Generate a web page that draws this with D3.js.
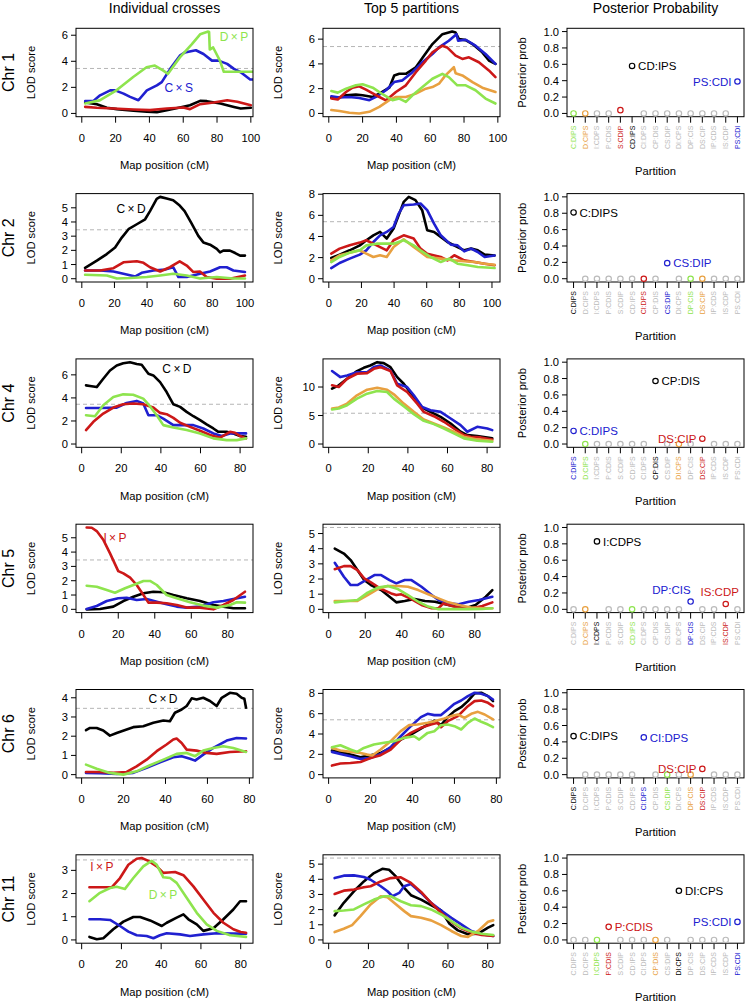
<!DOCTYPE html>
<html><head><meta charset="utf-8">
<script src="https://cdn.jsdelivr.net/npm/d3@7/dist/d3.min.js"></script>
<style>body{margin:0;background:#fff}svg text{font-family:"Liberation Sans",Arial,sans-serif}</style>
</head><body><svg id="c" width="745" height="1003"></svg>
<script>
// ---------------- DATA ----------------
const chromosomes = ["1","2","4","5","6","11"];
const columnTitles = ["Individual crosses","Top 5 partitions","Posterior Probability"];
const crosses = ["C×D","C×S","I×P","D×P"];
const partitions = ["C:DIPS","D:CIPS","I:CDPS","P:CDIS","S:CDIP","CD:IPS","CI:DPS","CP:DIS","CS:DIP","DI:CPS","DP:CIS","DS:CIP","IP:CDS","IS:CDP","PS:CDI"];
const xTicks100 = [0,20,40,60,80,100];
const xTicks80 = [0,20,40,60,80];
const probTicks = [0,0.2,0.4,0.6,0.8,1.0];
const thresholdCross = 3.45, thresholdPart = 5.4;
const xRangeLo = 0.45;
const xRangeHi = [97.4,100.9,83.2,90.2,78.6,82.9];

// Chr 1
const chr1Cross = [
 [[2,0.84],[8.9,0.71],[14.8,0.43],[20.7,0.33],[30.6,0.2],[38.5,0.13],[44.4,0.1],[50.3,0.25],[58,0.46],[64,0.63],[70,0.96],[74,0.94],[82,0.76],[90,0.5],[94,0.38],[100,0.43]],
 [[2,0.94],[6.7,0.94],[10.8,1.39],[16.8,1.77],[19.7,1.77],[24.7,1.52],[28.6,1.27],[33.5,1.01],[38.5,1.77],[44.4,2.15],[47.3,2.4],[52.3,3.42],[58,4.43],[61,4.68],[66,4.81],[67.5,4.85],[72,4.56],[77,4.05],[80.9,4.05],[86,3.8],[90,3.42],[94,3.16],[99.6,2.6],[102,2.6]],
 [[2,0.5],[8.9,0.43],[18.7,0.38],[30.6,0.3],[40.4,0.25],[50.3,0.38],[60,0.45],[64,0.33],[70,0.71],[78,0.84],[86,1.01],[92,0.89],[100,0.63]],
 [[2,0.76],[10.6,1.0],[20.5,1.77],[30.4,2.8],[38.3,3.54],[43.2,3.67],[48,3.3],[51,3.04],[58,4.3],[65,5.3],[70,6.07],[74.8,6.28],[75.3,6.25],[75.7,4.9],[77.7,5.06],[81.7,4.05],[84,3.2],[89.5,3.2],[101,3.2]]
];
const chr1Top = [
 [[1.5,1.28],[4.3,1.2],[10.2,1.47],[16,1.52],[20,1.47],[26,1.33],[29.9,1.6],[35.8,2.08],[38.7,3.07],[41.7,3.2],[45.6,3.2],[51.5,3.73],[56.4,4.67],[61.3,5.6],[67.2,6.4],[73,6.61],[75,6.53],[77,6.0],[81,5.92],[85,5.6],[90.8,4.93],[94.7,4.27],[98.6,4.0]],
 [[1.5,1.39],[6.3,1.28],[12.2,1.33],[18,1.25],[24,1.07],[27.9,1.33],[33.8,1.87],[38.7,2.53],[43.6,2.67],[49.5,3.33],[55.4,4.13],[61.3,4.8],[65.2,5.33],[71,5.87],[75.5,6.4],[76.5,5.87],[81,5.95],[86.8,5.47],[92.7,4.8],[98.6,4.0]],
 [[1.5,1.2],[5.3,1.12],[10.2,1.73],[14,2.08],[18,2.19],[22,1.92],[27.9,1.47],[33.8,1.05],[39.7,1.73],[45.6,2.27],[51.5,3.33],[57.4,4.27],[61.3,4.93],[67.2,5.47],[70,5.33],[75,4.67],[79,4.4],[82.9,4.53],[88.8,4.13],[94.7,3.47],[98.6,2.93]],
 [[1.5,0.27],[6.3,0.19],[12.2,0.05],[18,0.0],[24,0.13],[29.9,0.53],[35.8,1.07],[39.7,1.33],[45.6,1.33],[51.5,1.6],[57.4,2.0],[61.3,2.13],[65.2,2.4],[69,3.07],[74,3.73],[75,3.25],[79,3.07],[85,2.53],[90.8,2.08],[98.6,1.73]],
 [[1.5,1.81],[5.3,1.68],[10.2,2.0],[16,2.27],[20,2.35],[26,2.08],[31.8,1.55],[37.7,1.07],[41.7,1.2],[45.6,0.93],[49.5,1.47],[55.4,2.13],[61.3,2.8],[67.2,3.2],[71,2.93],[76,2.27],[81,2.27],[86.8,1.87],[92.7,1.2],[98.6,0.8]]
];
const chr1Prob = [0,0,0,0,0.04,0.58,0,0,0,0,0,0,0,0,0.39];
const chr1Rank = ["CD:IPS","PS:CDI","S:CDIP","D:CIPS","C:DIPS"];

// Chr 2
const chr2Cross = [
 [[2,0.77],[9.2,1.28],[15.3,1.74],[20.4,2.2],[24.5,2.9],[28.6,3.49],[33.7,3.84],[38.8,4.19],[41.8,4.77],[45.9,5.63],[48,5.77],[52,5.65],[56,5.53],[60,5.16],[63,4.77],[67,3.95],[71.4,3.02],[74.5,2.56],[78.6,2.4],[82.7,2.1],[84.7,1.86],[86.7,1.98],[90.8,1.98],[94,1.81],[97,1.63],[100,1.63]],
 [[2,0.58],[11.2,0.58],[19.4,0.51],[25.5,0.35],[32.8,0.16],[36.7,0.42],[43.9,0.58],[51,0.65],[56,0.81],[59.2,0.12],[64.3,0.12],[72.4,0.35],[78.6,0.51],[84.7,0.81],[88.8,0.81],[92.9,0.58],[100,0.47]],
 [[2,0.58],[11.2,0.58],[19.4,0.74],[25.5,1.16],[33.7,1.23],[37.8,1.12],[41.8,0.81],[48,0.51],[54,0.81],[60,1.23],[64.3,0.93],[68.4,0.47],[72.4,0.51],[76.5,0.12],[82.7,0],[90.8,0],[100,0.23]],
 [[2,0.28],[15.3,0.23],[21.5,0.02],[29.7,0.05],[39.8,0.12],[48,0.23],[56,0.35],[64.3,0.23],[72.4,0.02],[82.7,0.12],[92.9,0.02],[100,0.02]]
];
const chr2Top = [
 [[1.5,1.96],[6.6,2.28],[12.8,2.69],[19,3.16],[23,3.64],[27.3,4.11],[31.4,4.43],[35.5,3.8],[39.7,4.75],[42.8,6.0],[45.9,7.28],[49,7.75],[53.1,7.44],[57.2,6.49],[60.3,4.59],[64.5,4.43],[68.6,3.96],[72.7,3.48],[78.9,3.0],[83,2.69],[87.2,2.85],[91.3,2.69],[95.5,2.28],[101.6,2.2]],
 [[1.5,1.01],[6.6,1.49],[12.8,1.9],[19,2.28],[23,2.69],[27.3,3.48],[31.4,4.11],[35.5,4.43],[39.7,4.9],[42.8,6.17],[45.9,6.96],[52,7.03],[56.2,7.12],[60.3,6.49],[64.5,5.22],[68.6,4.11],[74.8,3.23],[78.9,3.16],[83,2.59],[87.2,2.85],[91.3,2.53],[95.5,2.06],[101.6,2.2]],
 [[1.5,2.37],[6.6,2.85],[12.8,3.16],[19,3.42],[23,3.64],[29.3,3.16],[35.5,2.69],[39.7,3.64],[45.9,4.11],[52,3.8],[56.2,2.85],[60.3,2.37],[68.6,2.06],[72.7,1.74],[76.9,2.22],[83,1.74],[89.3,1.58],[95.5,1.42],[101.6,1.27]],
 [[1.5,1.74],[6.6,2.22],[12.8,2.47],[19,2.69],[23,2.37],[27.3,2.06],[31.4,2.22],[35.5,2.06],[39.7,3.0],[45.9,3.73],[52,3.0],[56.2,2.53],[60.3,2.06],[68.6,1.9],[76.9,1.74],[83,1.65],[89.3,1.58],[95.5,1.42],[101.6,1.33]],
 [[1.5,1.58],[6.6,2.06],[12.8,2.47],[19,2.69],[23,3.16],[29.3,3.32],[35.5,3.32],[39.7,3.32],[45.9,3.64],[52,3.16],[56.2,2.69],[62.4,2.06],[68.6,1.58],[73.8,1.9],[78.9,1.42],[85.1,1.27],[91.3,1.11],[101.6,1.01]]
];
const chr2Prob = [0.81,0,0,0,0,0,0,0,0.19,0,0,0,0,0,0];
const chr2Rank = ["C:DIPS","CS:DIP","CI:DPS","DS:CIP","DP:CIS"];

// Chr 4
const chr4Cross = [
 [[2.2,5.09],[4.2,5.03],[7.6,4.94],[10.9,5.66],[14.3,6.38],[17.7,6.81],[21,7.01],[24.4,7.1],[27.8,6.95],[30.3,6.87],[33.7,6.09],[36.2,5.95],[39.6,5.37],[42.9,4.51],[46.3,3.45],[49.7,3.22],[53,2.79],[56.4,2.41],[59.8,2.07],[63.1,1.7],[66.5,1.35],[69,1.06],[73.2,1.06],[76.6,0.92],[80,0.69],[83,0.63]],
 [[2.2,3.13],[9.3,3.13],[17.7,3.16],[22.7,3.56],[27.8,3.74],[31.1,3.51],[33.7,2.5],[37.9,2.5],[41.2,2.21],[46.3,1.64],[51.3,1.64],[56.4,1.64],[61.4,1.35],[66.5,0.92],[70.7,0.69],[74.9,0.92],[78.3,0.92],[83,0.92]],
 [[2.2,1.21],[5.9,1.93],[10.9,2.64],[16,3.16],[21,3.45],[26,3.51],[31.1,3.45],[36.2,3.16],[39.6,2.7],[42.9,2.59],[46.3,2.27],[49.7,1.84],[54.7,1.49],[59.8,1.15],[64.8,0.78],[69.9,0.55],[74.9,1.06],[77.4,0.98],[80,0.69],[83,0.49]],
 [[2.2,2.5],[6.7,2.41],[10.9,3.36],[16,4.08],[21,4.31],[26,4.28],[31.1,3.94],[33.7,3.45],[37.9,2.5],[41.2,1.64],[46.3,1.44],[53,1.21],[59.8,0.92],[66.5,0.49],[73.2,0.34],[78.3,0.34],[83,0.49]]
];
const chr4Top = [
 [[1.7,9.71],[5.1,10.3],[9.3,11.45],[14.3,12.8],[17.7,13.37],[21,13.78],[24.5,14.36],[27.8,14.19],[31.2,13.49],[34.6,11.74],[37.9,10.58],[43,8.26],[47.2,6.4],[51.4,5.64],[56.5,4.77],[61.6,3.6],[66.6,2.15],[70,1.57],[75,1.4],[80.1,1.16],[82.6,0.99]],
 [[1.7,12.8],[5.9,11.74],[9.3,12.03],[14.3,12.6],[19.4,12.6],[22.8,13.49],[26.1,13.78],[31.2,12.9],[34.6,10.58],[39.6,10.0],[43,8.55],[47.2,6.51],[51.4,5.93],[56.5,5.64],[61.6,4.48],[66.6,3.31],[70,2.15],[75,3.02],[80.1,2.73],[82.6,2.44]],
 [[1.7,10.3],[5.1,10.0],[9.3,11.45],[14.3,12.33],[19.4,12.44],[22.8,13.2],[26.1,13.49],[31.2,12.8],[34.6,10.29],[39.6,9.13],[44.7,7.09],[48,5.64],[53.1,4.88],[58.2,3.9],[63.2,2.73],[68.3,1.57],[71.7,1.28],[76.7,1.16],[82.6,0.81]],
 [[1.7,6.22],[5.1,6.4],[9.3,7.09],[14.3,8.55],[19.4,9.53],[24.5,9.88],[29.5,9.53],[32.9,8.72],[37.9,7.09],[43,5.64],[48,4.3],[53.1,3.6],[58.2,2.91],[63.2,2.15],[68.3,1.28],[75,0.81],[82.6,0.58]],
 [[1.7,6.05],[5.1,6.22],[9.3,6.8],[14.3,7.97],[19.4,8.84],[24.5,9.3],[29.5,9.13],[32.9,7.97],[37.9,6.63],[43,5.23],[48,4.07],[53.1,3.49],[58.2,2.73],[63.2,1.86],[68.3,0.99],[75,0.58],[82.6,0.41]]
];
const chr4Prob = [0.16,0,0,0,0,0,0,0.77,0,0,0,0.065,0,0,0];
const chr4Rank = ["CP:DIS","C:DIPS","DS:CIP","DI:CPS","D:CIPS"];

// Chr 5
const chr5Cross = [
 [[2.7,0],[10,0.02],[17.3,0.19],[22.8,0.58],[28.3,0.88],[33.8,1.12],[39.2,1.23],[44.7,1.19],[50.2,1.0],[57.5,0.77],[64.8,0.58],[72.1,0.3],[77.6,0.19],[83,0.07],[89.4,0.07]],
 [[2.7,0.02],[8.2,0.23],[13.7,0.58],[20,0.77],[24.6,0.81],[30.1,0.65],[35.6,0.72],[41.1,0.53],[46.5,0.35],[52,0.19],[57.5,0.12],[64.8,0.19],[72.1,0.49],[77.6,0.58],[83,0.72],[89.4,0.88]],
 [[2.7,5.72],[5.5,5.7],[8.2,5.47],[11.9,4.84],[15.5,3.91],[20,2.67],[22.8,2.51],[26.5,2.21],[30.1,1.7],[33.8,1.0],[36.5,0.47],[41.1,0.47],[46.5,0.42],[52,0.3],[57.5,0.12],[64.8,0.12],[72.1,0],[77.6,0.3],[83,0.65],[89.4,1.23]],
 [[2.7,1.65],[8.2,1.58],[13.7,1.35],[18.2,1.16],[23.7,1.47],[28.3,1.7],[33.8,1.98],[37.4,1.98],[41.1,1.7],[46.5,1.0],[52,0.77],[59.3,0.49],[66.6,0.26],[73.9,0.12],[81.2,0.3],[84.9,0.49],[89.4,0.47]]
];
const chr5Top = [
 [[3.3,4.01],[8.3,3.68],[12,3.25],[15.7,2.59],[19.4,1.93],[23.1,1.6],[28.7,1.27],[33.3,0.83],[37,0.46],[41.6,0.55],[47.1,0.68],[52.7,0.55],[58.2,0.5],[63.8,0.33],[69.3,0.18],[74.9,0.07],[80.4,0.29],[86,0.83],[89.6,1.27]],
 [[3.3,3.07],[8.3,2.15],[12,1.6],[15.7,1.6],[19.4,1.86],[25,2.26],[28.7,2.26],[33.3,1.93],[37,1.71],[41.6,1.93],[45.3,1.93],[50.8,1.49],[56.4,0.94],[60.1,0.61],[65.6,0.39],[71.2,0.33],[76.7,0.5],[82.3,0.61],[89.6,0.83]],
 [[3.3,2.65],[8.3,2.85],[12,2.85],[15.7,2.59],[19.4,2.04],[23.1,1.78],[28.7,1.34],[34.2,1.05],[37,0.94],[39.7,0.99],[45.3,0.68],[50.8,0.29],[56.4,0.07],[60.1,0.07],[62.8,0.39],[67.5,0.22],[73,0.07],[78.6,0.07],[84.1,0.22],[89.6,0.46]],
 [[3.3,0.55],[10.2,0.55],[15.7,0.55],[21.3,0.94],[26.8,1.34],[32.3,1.54],[37.9,1.54],[43.4,1.49],[49,1.27],[54.5,0.99],[60.1,0.72],[65.6,0.46],[71.2,0.29],[78.6,0.11],[84.1,0.07],[89.6,0.07]],
 [[3.3,0.46],[10.2,0.55],[15.7,0.61],[21.3,1.1],[26.8,1.43],[32.3,1.54],[37.9,1.34],[43.4,0.94],[49,0.5],[54.5,0.18],[60.1,0.01],[67.5,0.01],[76.7,0.01],[84.1,0.02],[89.6,0.07]]
];
const chr5Prob = [0,0,0.83,0,0,0,0,0,0,0,0.095,0,0,0.065,0];
const chr5Rank = ["I:CDPS","DP:CIS","IS:CDP","D:CIPS","CD:IPS"];

// Chr 6
const chr6Cross = [
 [[2.1,2.31],[4,2.43],[7.2,2.43],[10.3,2.3],[13.5,2.03],[16.7,2.17],[21.5,2.35],[24.6,2.47],[29.4,2.52],[34.2,2.7],[39,2.82],[42.1,2.78],[44.5,3.22],[47.7,3.39],[50.1,3.57],[52.5,3.97],[54.8,3.91],[58,4.0],[61.2,3.83],[64.4,3.57],[66.8,4.0],[70.7,4.26],[73.9,4.21],[76.3,4.0],[77.6,3.95],[78.4,3.48]],
 [[2.1,0.09],[8.7,0.07],[16.7,0.03],[24.6,0.09],[31,0.35],[37.4,0.64],[43.7,0.9],[47.7,0.96],[51.7,0.83],[54.1,0.73],[58,1.04],[62.8,1.39],[69.2,1.77],[73.9,1.91],[78.4,1.88]],
 [[2.1,0.14],[8.7,0.14],[15.1,0.09],[21.5,0.14],[26.2,0.43],[31,0.78],[35.8,1.22],[40.5,1.57],[43.7,1.83],[45.3,1.88],[47.7,1.65],[50.1,1.3],[54.8,1.25],[59.6,1.13],[64.4,1.08],[70.7,1.18],[78.4,1.22]],
 [[2.1,0.52],[7.2,0.31],[13.5,0.09],[19.9,0],[26.2,0.17],[32.6,0.49],[39,0.78],[45.3,1.08],[50.1,1.13],[54.1,0.96],[58,1.25],[62.8,1.39],[67.6,1.48],[72.3,1.39],[78.4,1.18]]
];
const chr6Top = [
 [[1.6,2.37],[5.6,2.24],[10.4,1.97],[15.2,1.71],[20,1.91],[24.8,2.14],[29.6,2.63],[34.4,3.45],[39.2,3.95],[44,4.54],[47.2,4.93],[50.4,5.33],[53.6,4.87],[56.8,5.66],[60,6.25],[63.2,6.64],[66.4,7.24],[69.6,8.0],[72.8,8.06],[76,7.73],[78.4,7.24]],
 [[1.6,2.24],[5.6,2.04],[10.4,1.81],[15.2,1.55],[20,1.64],[24.8,2.04],[29.6,2.7],[34.4,3.78],[39.2,4.77],[44,5.66],[47.2,5.99],[50.4,5.86],[53.6,5.86],[56.8,6.41],[60,6.97],[63.2,7.3],[66.4,7.73],[69.6,8.06],[72.8,7.96],[76,7.73],[78.4,7.4]],
 [[1.6,0.89],[5.6,1.09],[10.4,1.15],[15.2,1.25],[20,1.64],[24.8,1.91],[29.6,2.47],[34.4,3.45],[39.2,4.11],[44,4.61],[48.8,4.93],[52,5.1],[53.6,4.67],[56.8,5.26],[61.6,5.76],[66.4,6.74],[69.6,7.24],[72.8,7.3],[76,7.07],[78.4,6.74]],
 [[1.6,2.63],[5.6,2.37],[10.4,2.24],[15.2,2.14],[18.4,1.97],[20.8,1.88],[24.8,2.47],[29.6,3.29],[34.4,4.28],[38.4,4.87],[42.4,4.93],[47.2,5.1],[50.4,5.26],[55.2,5.53],[58.4,5.76],[61.6,5.92],[64.8,5.59],[68,5.99],[71.2,6.18],[74.4,5.92],[78.4,5.43]],
 [[1.6,2.7],[5.6,2.89],[10.4,2.47],[13.6,2.24],[16.8,2.63],[21.6,2.96],[26.4,3.13],[31.2,3.29],[36,3.62],[40.8,3.78],[43.2,3.45],[47.2,4.11],[50.4,4.28],[53.6,4.87],[56.8,4.93],[60,4.77],[63.2,4.44],[66.4,5.1],[69.6,5.53],[72.8,5.2],[76,4.93],[78.4,4.67]]
];
const chr6Prob = [0.47,0,0,0,0,0,0.455,0,0,0,0,0.07,0,0,0];
const chr6Rank = ["C:DIPS","CI:DPS","DS:CIP","DP:CIS","CS:DIP"];

// Chr 11
const chr11Cross = [
 [[3.9,0.13],[7.6,0.03],[10.9,0.07],[15.9,0.46],[21,0.79],[26,0.99],[29.4,0.99],[34.4,0.84],[40.3,0.6],[42.8,0.74],[47.8,0.96],[51.2,1.1],[53.7,0.89],[57.9,0.67],[61.2,0.39],[66.3,0.5],[71.3,0.89],[76.3,1.31],[79.7,1.67],[82.7,1.67]],
 [[3.9,0.89],[9.2,0.89],[14.3,0.86],[19.3,0.6],[23.5,0.36],[27.7,0.2],[32.7,0.17],[36.1,0.07],[39.4,0.2],[42.8,0.29],[49.5,0.24],[54.5,0.17],[61.2,0.24],[68,0.29],[76.3,0.27],[82.7,0.27]],
 [[3.9,2.27],[9.2,2.27],[15.1,2.27],[19.3,2.67],[23.5,3.24],[27.7,3.5],[30.2,3.53],[33.6,3.41],[37.8,3.17],[41.1,2.89],[43.6,2.91],[47,2.93],[51.2,2.79],[56.2,2.31],[61.2,1.74],[66.3,1.17],[71.3,0.74],[76.3,0.46],[80,0.34],[82.7,0.31]],
 [[3.9,1.67],[9.2,2.03],[14.3,2.24],[17.6,2.29],[21.8,2.2],[26,2.67],[31,3.17],[35.2,3.41],[37.8,3.24],[41.1,2.7],[44.5,2.67],[47.8,2.46],[52.9,1.81],[57.9,1.17],[62.9,0.67],[68,0.39],[74.7,0.2],[82.7,0.13]]
];
const chr11Top = [
 [[3,1.62],[7.6,2.45],[12.7,3.21],[17.7,3.86],[22.8,4.41],[27,4.69],[30.4,4.63],[33.8,4.19],[38,3.43],[41.4,2.95],[46.5,2.66],[51.5,2.29],[56.6,1.94],[60.8,1.07],[65,0.63],[70.1,0.37],[75.2,0.41],[80.2,0.81],[82.8,0.98]],
 [[3,4.08],[7.6,4.24],[12.7,4.26],[17.7,4.15],[21.1,3.97],[26.2,3.54],[29.6,3.21],[32.1,2.88],[35.5,3.1],[38,3.54],[41.4,3.69],[46.5,3.1],[51.5,2.45],[56.6,1.94],[61.7,1.46],[66.7,1.03],[71.8,0.59],[76.9,0.37],[82.8,0.26]],
 [[3,3.03],[7.6,3.25],[12.7,3.32],[17.7,3.47],[21.1,3.54],[26.2,3.86],[31.2,4.08],[36.3,4.13],[41.4,3.76],[46.5,3.17],[51.5,2.45],[56.6,1.79],[61.7,1.2],[66.7,0.76],[71.8,0.48],[76.9,0.33],[82.8,0.26]],
 [[3,0.52],[7.6,0.74],[11.8,0.98],[16,1.57],[21.1,2.34],[26.2,2.88],[29.6,2.82],[32.9,2.45],[38,1.9],[41.4,1.57],[46.5,1.46],[51.5,1.29],[56.6,0.98],[61.7,0.59],[66.7,0.26],[70.1,0.2],[75.2,0.59],[80.2,1.2],[82.8,1.29]],
 [[3,1.9],[7.6,1.94],[12.7,2.01],[17.7,2.34],[22.8,2.66],[27.9,2.88],[31.2,2.88],[36.3,2.55],[41.4,2.29],[46.5,2.23],[51.5,2.01],[56.6,1.68],[61.7,1.24],[66.7,0.81],[71.8,0.55],[76.9,0.41],[82.8,0.33]]
];
const chr11Prob = [0,0,0,0.16,0,0,0,0,0,0.6,0,0,0,0,0.22];
const chr11Rank = ["DI:CPS","PS:CDI","P:CDIS","CP:DIS","I:CDPS"];

// annotations in left panels: [chromosome index, cross index, x (cM), y (LOD)]
const crossLabels = [[0,3,90,5.87],[0,1,57.3,2.0],[1,0,30.2,4.97],[2,0,48.1,6.55],[3,2,18.2,4.99],[4,0,38.8,3.96],[5,2,10.2,3.16],[5,3,40.9,1.96]];

// ---------------- STYLE / LAYOUT ----------------
const C = {black:"#000000", blue:"#2020d0", red:"#cc1818", orange:"#e8a040", green:"#8ee44e", gray:"#bbbbbb"};
const crossColor = [C.black, C.blue, C.red, C.green];
const rankColor = [C.black, C.blue, C.red, C.orange, C.green];
const rowTop0 = 28.3, rowPitch = 165.3, boxH = 88.4, boxW = 177;
const colX = [76, 323, 567];
const FONT = 11.2;
// special label placement in posterior panels
const labelPlace = {"5|DP:CIS":{anchor:"end",dx:0,dy:-12}, "5|IS:CDP":{anchor:"middle",dx:-6,dy:-12}};

const rows = [
 {cross:chr1Cross, top:chr1Top, prob:chr1Prob, rank:chr1Rank, xt:xTicks100, ytL:[0,2,4,6], ytM:[0,2,4,6]},
 {cross:chr2Cross, top:chr2Top, prob:chr2Prob, rank:chr2Rank, xt:xTicks100, ytL:[0,1,2,3,4,5], ytM:[0,2,4,6,8]},
 {cross:chr4Cross, top:chr4Top, prob:chr4Prob, rank:chr4Rank, xt:xTicks80, ytL:[0,2,4,6], ytM:[0,5,10]},
 {cross:chr5Cross, top:chr5Top, prob:chr5Prob, rank:chr5Rank, xt:xTicks80, ytL:[0,1,2,3,4,5], ytM:[0,1,2,3,4,5]},
 {cross:chr6Cross, top:chr6Top, prob:chr6Prob, rank:chr6Rank, xt:xTicks80, ytL:[0,1,2,3,4], ytM:[0,2,4,6,8]},
 {cross:chr11Cross, top:chr11Top, prob:chr11Prob, rank:chr11Rank, xt:xTicks80, ytL:[0,1,2,3], ytM:[0,1,2,3,4,5]}
];

function expand(lo, hi){ const d=(hi-lo)*0.04; return [lo-d, hi+d]; }

const svg = d3.select("#c");
svg.append("rect").attr("width",745).attr("height",1003).attr("fill","#fff");
const defs = svg.append("defs");

columnTitles.forEach((t,i)=>{
  svg.append("text").attr("x", colX[i]+boxW/2).attr("y", 12.5).attr("text-anchor","middle")
     .attr("font-size",14).text(t);
});

function frame(g, x, y, xt, yt, yfmt){
  g.append("rect").attr("x",0).attr("y",0).attr("width",boxW).attr("height",boxH)
    .attr("fill","none").attr("stroke","#000").attr("stroke-width",1);
  const ya = g.append("g");
  yt.forEach(v=>{
    ya.append("line").attr("x1",-5).attr("x2",0).attr("y1",y(v)).attr("y2",y(v)).attr("stroke","#000");
    ya.append("text").attr("x",-8).attr("y",y(v)).attr("dy","0.36em").attr("text-anchor","end")
      .attr("font-size",FONT).text(yfmt(v));
  });
  if (xt){
    xt.forEach(v=>{
      g.append("line").attr("x1",x(v)).attr("x2",x(v)).attr("y1",boxH).attr("y2",boxH+6).attr("stroke","#000");
      g.append("text").attr("x",x(v)).attr("y",boxH+25).attr("text-anchor","middle").attr("font-size",FONT).text(v);
    });
  }
}

function lodPanel(ri, col, series, colors, thr, yt, xt, xDom, labels){
  const g = svg.append("g").attr("transform",`translate(${colX[col]},${rowTop0+ri*rowPitch})`);
  const ymax = Math.max(d3.max(series, s=>d3.max(s, d=>d[1])), thr);
  const x = d3.scaleLinear().domain(xDom).range([0,boxW]);
  const y = d3.scaleLinear().domain(expand(0, ymax)).range([boxH,0]);
  const cid = `clip${ri}_${col}`;
  defs.append("clipPath").attr("id",cid).append("rect").attr("width",boxW).attr("height",boxH);
  const pg = g.append("g").attr("clip-path",`url(#${cid})`);
  pg.append("line").attr("x1",0).attr("x2",boxW).attr("y1",y(thr)).attr("y2",y(thr))
    .attr("stroke","#b5b5b5").attr("stroke-dasharray","4,3").attr("stroke-width",1);
  const line = d3.line().x(d=>x(d[0])).y(d=>y(d[1])).curve(d3.curveLinear);
  series.forEach((s,i)=>{
    pg.append("path").attr("d",line(s)).attr("fill","none").attr("stroke",colors[i])
      .attr("stroke-width",2.6).attr("stroke-linejoin","round").attr("stroke-linecap","round");
  });
  frame(g, x, y, xt, yt, d=>d);
  g.append("text").attr("transform",`translate(${-45},${boxH/2}) rotate(-90)`).attr("text-anchor","middle")
    .attr("dy","0.36em").attr("font-size",FONT).text("LOD score");
  g.append("text").attr("x",boxW/2).attr("y",boxH+52.5).attr("text-anchor","middle").attr("font-size",FONT).text("Map position (cM)");
  (labels||[]).forEach(l=>{
    g.append("text").attr("x",x(l[2])).attr("y",y(l[3])).attr("dy","0.36em").attr("text-anchor","middle")
      .attr("font-size",12).attr("fill",crossColor[l[1]]).text(crosses[l[1]].replace("×","\u2009×\u2009"));
  });
}

function probPanel(ri, r){
  const g = svg.append("g").attr("transform",`translate(${colX[2]},${rowTop0+ri*rowPitch})`);
  const x = d3.scaleLinear().domain(expand(1, partitions.length)).range([0,boxW]);
  const y = d3.scaleLinear().domain(expand(0,1)).range([boxH,0]);
  frame(g, x, y, null, probTicks, d3.format(".1f"));
  const colorOf = p => { const k = r.rank.indexOf(p); return k<0 ? C.gray : rankColor[k]; };
  partitions.forEach((p,i)=>{
    const xi = x(i+1);
    g.append("line").attr("x1",xi).attr("x2",xi).attr("y1",boxH).attr("y2",boxH+6).attr("stroke","#000");
    g.append("text").attr("transform",`translate(${xi},${boxH+9}) rotate(-90)`).attr("text-anchor","end")
      .attr("dy","0.35em").attr("font-size",7).attr("fill",colorOf(p)).text(p);
    g.append("circle").attr("cx",xi).attr("cy",y(r.prob[i])).attr("r",2.7)
      .attr("fill","none").attr("stroke",colorOf(p)).attr("stroke-width",1.2);
    if (r.prob[i] > 0.05){
      const key = chromosomes[ri]+"|"+p;
      let pl = labelPlace[key];
      if (!pl) pl = i >= 11 ? {anchor:"end",dx:-6,dy:0} : {anchor:"start",dx:6,dy:0};
      g.append("text").attr("x",xi+pl.dx).attr("y",y(r.prob[i])+pl.dy).attr("dy","0.36em")
        .attr("text-anchor",pl.anchor).attr("font-size",11.5).attr("fill",colorOf(p)).text(p);
    }
  });
  g.append("text").attr("transform",`translate(${-45},${boxH/2}) rotate(-90)`).attr("text-anchor","middle")
    .attr("dy","0.36em").attr("font-size",FONT).text("Posterior prob");
  g.append("text").attr("x",boxW/2).attr("y",boxH+58).attr("text-anchor","middle").attr("font-size",FONT).text("Partition");
}

rows.forEach((r,ri)=>{
  const xDom = expand(xRangeLo, xRangeHi[ri]);
  const labs = crossLabels.filter(l=>l[0]===ri);
  lodPanel(ri, 0, r.cross, crossColor, thresholdCross, r.ytL, r.xt, xDom, labs);
  lodPanel(ri, 1, r.top, rankColor, thresholdPart, r.ytM, r.xt, xDom, null);
  probPanel(ri, r);
  svg.append("text").attr("transform",`translate(8,${rowTop0+ri*rowPitch+boxH/2}) rotate(-90)`)
    .attr("text-anchor","middle").attr("dy","0.36em").attr("font-size",16).text("Chr "+chromosomes[ri]);
});
</script></body></html>
